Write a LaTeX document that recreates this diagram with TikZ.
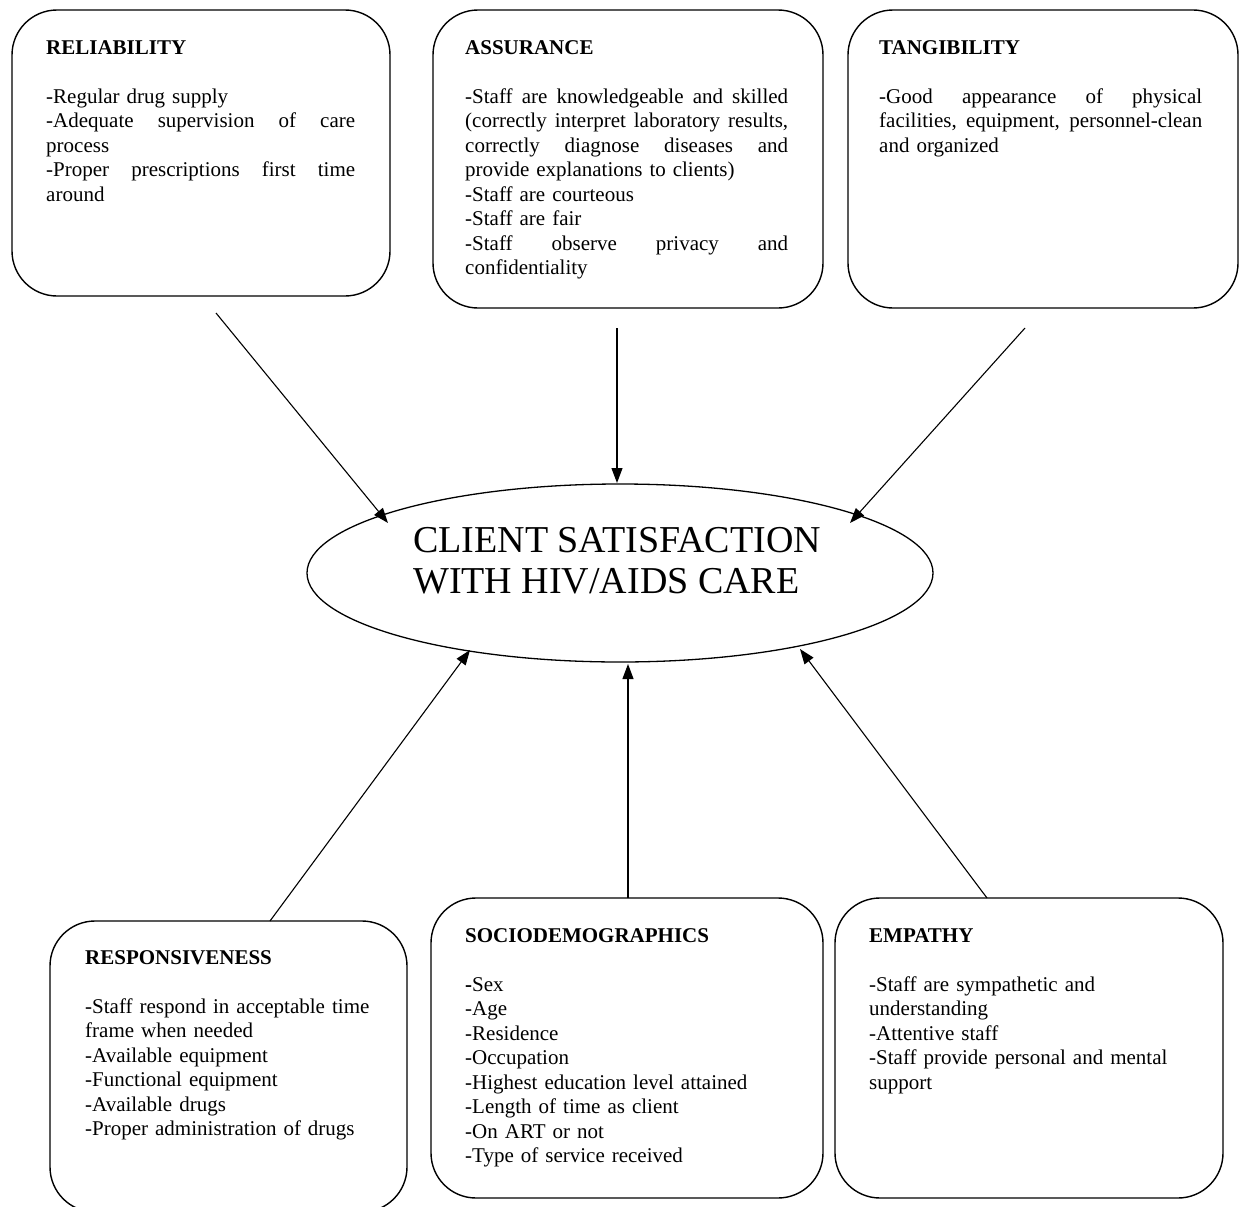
\documentclass[tikz,border=0pt]{standalone}
\usepackage{fontspec}
\setmainfont{Liberation Serif}
\usetikzlibrary{arrows.meta,shapes.geometric}
\setlength{\parindent}{0pt}
\newcommand\jl[2]{\leavevmode\hbox to #1{\spaceskip=0.25em plus 1fil\relax #2}}
\begin{document}
\begin{tikzpicture}[x=1pt,y=-1pt,
  frame/.style={draw,line width=1.4pt,rounded corners=45pt,inner sep=0pt,outer sep=0pt},
  body/.style={anchor=north west,inner sep=0pt,align=left,
    font=\fontsize{21}{24.5}\selectfont},
  conn/.style={line width=1.1pt,-{Triangle[length=15pt,width=11pt]}}]
\useasboundingbox (0,0) rectangle (1245,1207);

% boxes
\node[frame,minimum width=378pt,minimum height=286pt] (relb) at (201,153) {};
\node[frame,minimum width=390pt,minimum height=298pt] (assb) at (628,159) {};
\node[frame,minimum width=390pt,minimum height=298pt] (tanb) at (1043,159) {};
\node[frame,minimum width=357pt,minimum height=291pt] (resb) at (228.5,1066.5) {};
\node[frame,minimum width=392pt,minimum height=300pt] (socb) at (627,1048) {};
\node[frame,minimum width=388pt,minimum height=300pt] (empb) at (1029,1048) {};

% ellipse
\node[draw,ellipse,line width=1.3pt,minimum width=626pt,minimum height=178pt,inner sep=0pt] (cs) at (620,573) {};
\node[anchor=north west,inner sep=0pt,align=left,font=\fontsize{38}{41}\selectfont] (cst) at (413,527)
  {CLIENT SATISFACTION\\WITH HIV/AIDS CARE};

% texts
\node[body,text width=310pt] (relt) at (46,40) {\textbf{RELIABILITY}\\[24.5pt]
-Regular drug supply\\
\jl{309pt}{-Adequate supervision of care}\\
process\\
\jl{309pt}{-Proper prescriptions first time}\\
around};

\node[body,text width=325pt] (asst) at (465,40) {\textbf{ASSURANCE}\\[24.5pt]
\jl{323pt}{-Staff are knowledgeable and skilled}\\
\jl{323pt}{(correctly interpret laboratory results,}\\
\jl{323pt}{correctly diagnose diseases and}\\
provide explanations to clients)\\
-Staff are courteous\\
-Staff are fair\\
\jl{323pt}{-Staff observe privacy and}\\
confidentiality};

\node[body,text width=325pt] (tant) at (879,40) {\textbf{TANGIBILITY}\\[24.5pt]
\jl{323pt}{-Good appearance of physical}\\
\jl{323pt}{facilities, equipment, personnel-clean}\\
and organized};

\node[body,text width=330pt] (rest) at (85,950) {\textbf{RESPONSIVENESS}\\[24.5pt]
-Staff respond in acceptable time\\
frame when needed\\
-Available equipment\\
-Functional equipment\\
-Available drugs\\
-Proper administration of drugs};

\node[body,text width=330pt] (soct) at (465,928) {\textbf{SOCIODEMOGRAPHICS}\\[24.5pt]
{\bfseries -}Sex\\
-Age\\
-Residence\\
-Occupation\\
-Highest education level attained\\
-Length of time as client\\
-On ART or not\\
-Type of service received};

\node[body,text width=320pt] (empt) at (869,928) {\textbf{EMPATHY}\\[24.5pt]
-Staff are sympathetic and\\
understanding\\
-Attentive staff\\
-Staff provide personal and mental\\
support};

% connector ends
\coordinate (r1s) at (216,313);  \coordinate (r1e) at (388,523);
\coordinate (a1s) at (617,328);  \coordinate (a1e) at (617,483);
\coordinate (t1s) at (1025,328); \coordinate (t1e) at (850,523);
\coordinate (p1s) at (270,921);  \coordinate (p1e) at (470,650);
\coordinate (s1s) at (628,898);  \coordinate (s1e) at (628,664);
\coordinate (e1s) at (987,898);  \coordinate (e1e) at (800,649);

\draw[conn] (r1s) -- (r1e);
\draw[conn] (a1s) -- (a1e);
\draw[conn] (t1s) -- (t1e);
\draw[conn] (p1s) -- (p1e);
\draw[conn] (s1s) -- (s1e);
\draw[conn] (e1s) -- (e1e);
\end{tikzpicture}
\end{document}
